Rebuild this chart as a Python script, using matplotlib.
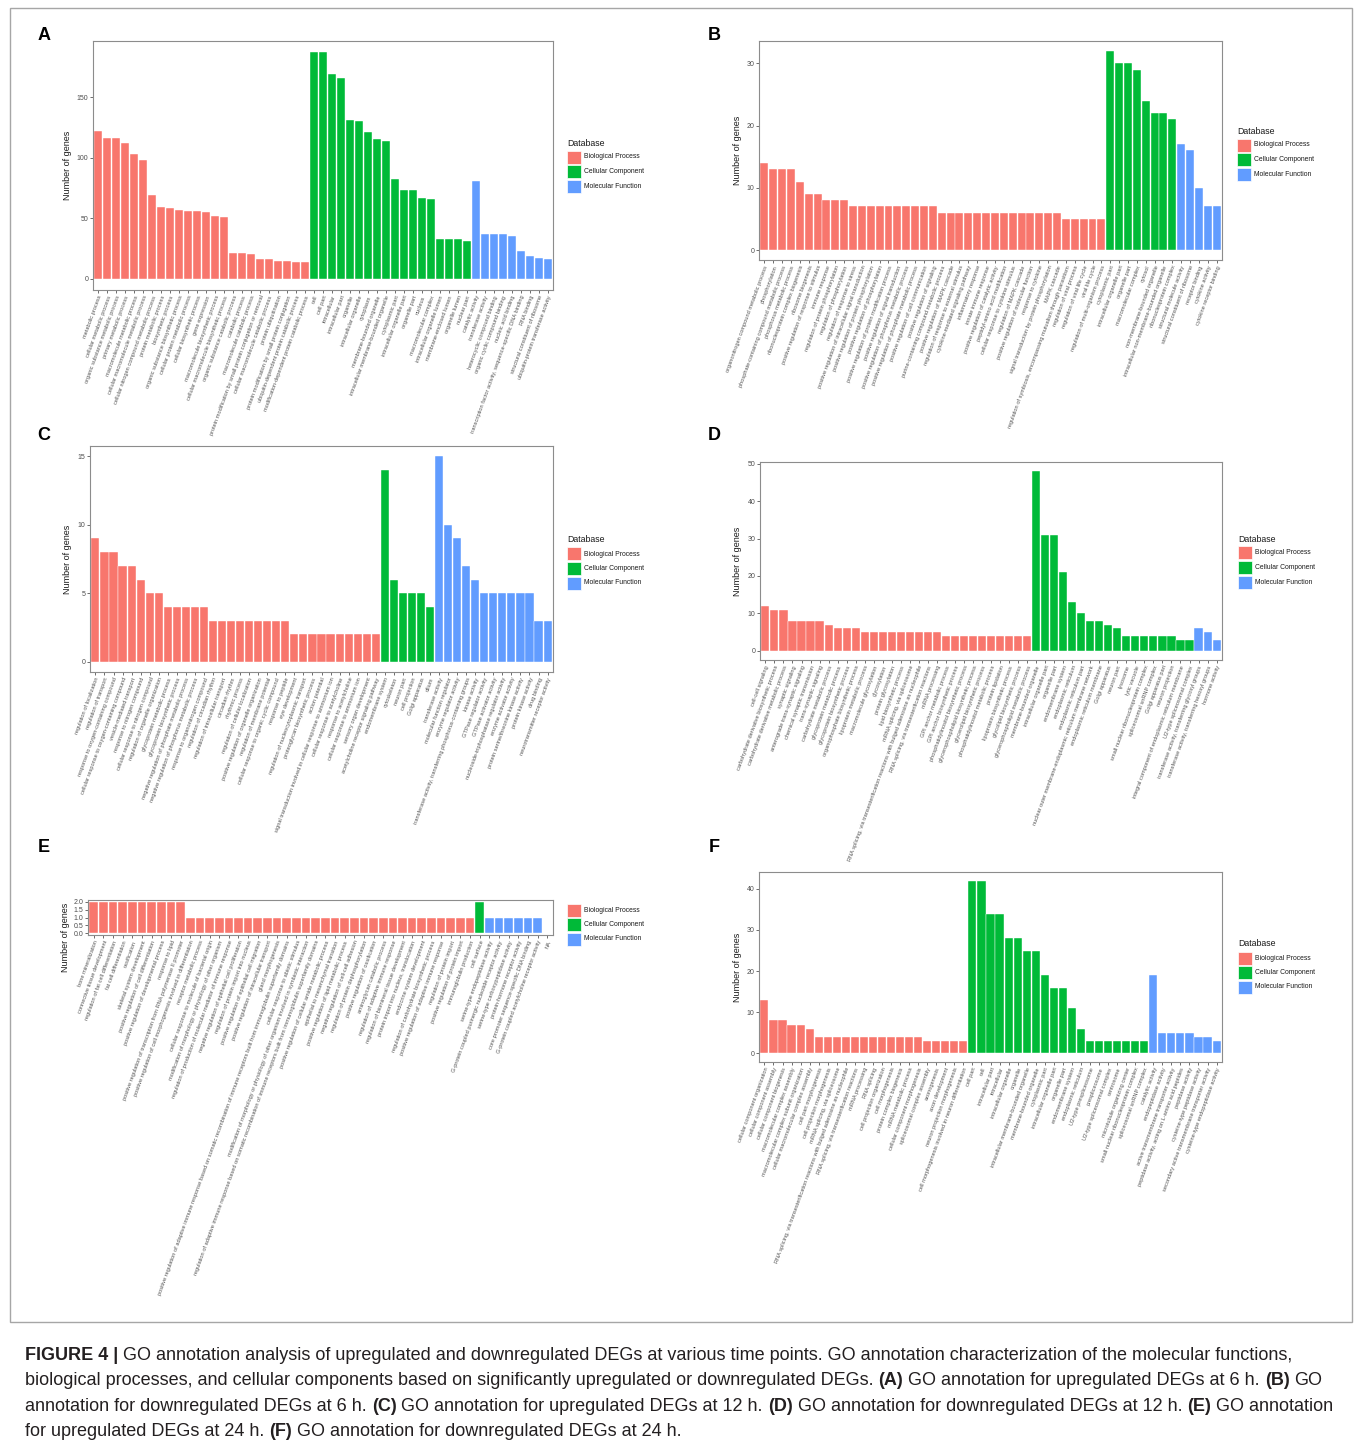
import matplotlib
matplotlib.use('Agg')
import matplotlib.pyplot as plt
from matplotlib.patches import Rectangle
from matplotlib.transforms import Bbox
import numpy as np

plt.rcParams['font.family'] = ['Liberation Sans', 'DejaVu Sans']

W, H = 1358, 1446

# colours used by ggplot for the three GO databases
BP_COLOR = '#F8766D'
CC_COLOR = '#00BA38'
MF_COLOR = '#619CFF'

# ---------------- panel A: upregulated 6 h ----------------
a_bp_terms = ['metabolic process', 'cellular metabolic process', 'organic substance metabolic process',
              'primary metabolic process', 'macromolecule metabolic process',
              'cellular macromolecule metabolic process', 'cellular nitrogen compound metabolic process',
              'protein metabolic process', 'biosynthetic process', 'organic substance biosynthetic process',
              'cellular protein metabolic process', 'cellular biosynthetic process', 'gene expression',
              'macromolecule biosynthetic process', 'cellular macromolecule biosynthetic process',
              'organic substance catabolic process', 'catabolic process', 'macromolecule catabolic process',
              'protein modification by small protein conjugation or removal',
              'cellular macromolecule catabolic process', 'protein ubiquitination',
              'protein modification by small protein conjugation', 'ubiquitin-dependent protein catabolic process',
              'modification-dependent protein catabolic process']
a_bp_counts = [122, 116, 116, 112, 103, 98, 69, 59, 58, 57, 56, 56, 55, 52, 51, 21, 21, 20, 16, 16, 15, 15, 14, 14]
a_cc_terms = ['cell', 'cell part', 'intracellular', 'intracellular part', 'organelle', 'intracellular organelle',
              'cytoplasm', 'membrane-bounded organelle', 'intracellular membrane-bounded organelle',
              'cytoplasmic part', 'intracellular organelle part', 'organelle part', 'nucleus',
              'macromolecular complex', 'intracellular organelle lumen', 'membrane-enclosed lumen',
              'organelle lumen', 'nuclear part']
a_cc_counts = [187, 187, 169, 166, 131, 130, 121, 115, 114, 82, 73, 73, 67, 66, 33, 33, 33, 31]
a_mf_terms = ['catalytic activity', 'transferase activity', 'heterocyclic compound binding',
              'organic cyclic compound binding', 'nucleic acid binding',
              'transcription factor activity, sequence-specific DNA binding', 'RNA binding',
              'structural constituent of ribosome', 'ubiquitin-protein transferase activity']
a_mf_counts = [81, 37, 37, 37, 35, 23, 19, 17, 16]

# ---------------- panel B: downregulated 6 h ----------------
b_bp_terms = ['organonitrogen compound metabolic process', 'phosphorylation',
              'phosphate-containing compound metabolic process', 'phosphorus metabolic process',
              'ribonucleoprotein complex biogenesis', 'ribosome biogenesis',
              'positive regulation of response to stimulus', 'immune response',
              'regulation of protein phosphorylation', 'regulation of phosphorylation',
              'regulation of response to stress', 'positive regulation of intracellular signal transduction',
              'positive regulation of protein phosphorylation', 'positive regulation of phosphorylation',
              'positive regulation of protein modification process', 'positive regulation of signal transduction',
              'positive regulation of phosphorus metabolic process',
              'positive regulation of phosphate metabolic process', 'positive regulation of cell communication',
              'positive regulation of signaling', 'purine-containing compound metabolic process',
              'positive regulation of MAPK cascade', 'regulation of response to external stimulus',
              'cytokine-mediated signaling pathway', 'inflammatory response', 'innate immune response',
              'positive regulation of catalytic activity', 'peptidyl-amino acid modification',
              'cellular response to cytokine stimulus', 'regulation of MAPK cascade',
              'positive regulation of molecular function', 'response to cytokine',
              'signal transduction by protein phosphorylation', 'MAPK cascade',
              'regulation of symbiosis, encompassing mutualism through parasitism',
              'regulation of viral process', 'regulation of viral life cycle', 'viral life cycle',
              'regulation of multi-organism process']
b_bp_counts = [14, 13, 13, 13, 11, 9, 9, 8, 8, 8, 7, 7, 7, 7, 7, 7, 7, 7, 7, 7,
               6, 6, 6, 6, 6, 6, 6, 6, 6, 6, 6, 6, 6, 6, 5, 5, 5, 5, 5]
b_cc_terms = ['cytoplasmic part', 'intracellular organelle part', 'organelle part', 'macromolecular complex',
              'cytosol', 'non-membrane-bounded organelle', 'intracellular non-membrane-bounded organelle',
              'ribonucleoprotein complex']
b_cc_counts = [32, 30, 30, 29, 24, 22, 22, 21]
b_mf_terms = ['structural molecule activity', 'structural constituent of ribosome', 'receptor binding',
              'cytokine activity', 'cytokine receptor binding']
b_mf_counts = [17, 16, 10, 7, 7]

# ---------------- panel C: upregulated 12 h ----------------
c_bp_terms = ['regulation of localization', 'regulation of transport', 'response to oxygen-containing compound',
              'cellular response to oxygen-containing compound', 'vesicle-mediated transport',
              'response to nitrogen compound', 'cellular response to nitrogen compound',
              'regulation of organelle organization', 'glycoprotein metabolic process',
              'glycoprotein biosynthetic process', 'negative regulation of phosphate metabolic process',
              'negative regulation of phosphorus metabolic process', 'response to organonitrogen compound',
              'regulation of circadian rhythm', 'regulation of intracellular transport', 'circadian rhythm',
              'rhythmic process', 'regulation of cellular localization',
              'positive regulation of organelle organization', 'regulation of membrane potential',
              'cellular response to organic cyclic compound', 'response to peptide', 'eye development',
              'regulation of nucleocytoplasmic transport', 'proteoglycan biosynthetic process',
              'action potential', 'signal transduction involved in cellular response to ammonium ion',
              'cellular response to acetylcholine', 'response to acetylcholine',
              'cellular response to ammonium ion', 'sensory organ development',
              'acetylcholine receptor signaling pathway']
c_bp_counts = [9, 8, 8, 7, 7, 6, 5, 5, 4, 4, 4, 4, 4, 3, 3, 3, 3, 3, 3, 3, 3, 3,
               2, 2, 2, 2, 2, 2, 2, 2, 2, 2]
c_cc_terms = ['endomembrane system', 'cytoskeleton', 'neuron part', 'cell projection', 'Golgi apparatus', 'cilium']
c_cc_counts = [14, 6, 5, 5, 5, 4]
c_mf_terms = ['transferase activity', 'molecular function regulator', 'enzyme regulator activity',
              'transferase activity, transferring phosphorus-containing groups', 'kinase activity',
              'GTPase regulator activity', 'GTPase activator activity',
              'nucleoside-triphosphatase regulator activity', 'enzyme activator activity',
              'protein serine/threonine kinase activity', 'protein kinase activity', 'drug binding',
              'neurotransmitter receptor activity']
c_mf_counts = [15, 10, 9, 7, 6, 5, 5, 5, 5, 5, 5, 3, 3]

# ---------------- panel D: downregulated 12 h ----------------
d_bp_terms = ['cell-cell signaling', 'carbohydrate derivative biosynthetic process',
              'carbohydrate derivative metabolic process', 'synaptic signaling',
              'anterograde trans-synaptic signaling', 'chemical synaptic transmission', 'trans-synaptic signaling',
              'carbohydrate metabolic process', 'glycoprotein metabolic process', 'glycoprotein biosynthetic process',
              'organophosphate biosynthetic process', 'lipoprotein metabolic process', 'macromolecule glycosylation',
              'glycosylation', 'protein glycosylation', 'lipid biosynthetic process', 'mRNA splicing, via spliceosome',
              'RNA splicing, via transesterification reactions with bulged adenosine as nucleophile',
              'RNA splicing, via transesterification reactions', 'mRNA processing', 'GPI anchor metabolic process',
              'GPI anchor biosynthetic process', 'phosphatidylinositol biosynthetic process',
              'glycerophospholipid biosynthetic process', 'glycerolipid biosynthetic process',
              'phosphatidylinositol metabolic process', 'protein lipidation', 'lipoprotein biosynthetic process',
              'glycolipid biosynthetic process', 'glycerophospholipid metabolic process']
d_bp_counts = [12, 11, 11, 8, 8, 8, 8, 7, 6, 6, 6, 5, 5, 5, 5, 5, 5, 5, 5, 5,
               4, 4, 4, 4, 4, 4, 4, 4, 4, 4]
d_cc_terms = ['membrane-bounded organelle', 'intracellular organelle part', 'organelle part', 'endomembrane system',
              'endoplasmic reticulum', 'endoplasmic reticulum part',
              'nuclear outer membrane-endoplasmic reticulum membrane network', 'endoplasmic reticulum membrane',
              'Golgi apparatus', 'neuron part', 'lysosome', 'lytic vacuole',
              'small nuclear ribonucleoprotein complex', 'spliceosomal snRNP complex', 'Golgi apparatus part',
              'neuron projection', 'integral component of endoplasmic reticulum membrane',
              'U2-type spliceosomal complex']
d_cc_counts = [48, 31, 31, 21, 13, 10, 8, 8, 7, 6, 4, 4, 4, 4, 4, 4, 3, 3]
d_mf_terms = ['transferase activity, transferring glycosyl groups',
              'transferase activity, transferring hexosyl groups', 'hormone activity']
d_mf_counts = [6, 5, 3]

# ---------------- panel E: upregulated 24 h ----------------
e_bp_terms = ['bone mineralization', 'connective tissue development', 'regulation of fat cell differentiation',
              'fat cell differentiation', 'ossification', 'skeletal system development',
              'positive regulation of cell differentiation', 'positive regulation of developmental process',
              'response to lipid', 'positive regulation of transcription from RNA polymerase II promoter',
              'positive regulation of cell morphogenesis involved in differentiation', 'receptor metabolic process',
              'cellular response to molecule of bacterial origin',
              'modification of morphology or physiology of other organism',
              'regulation of production of molecular mediator of immune response',
              'negative regulation of epithelial cell proliferation', 'regulation of protein import into nucleus',
              'positive regulation of epithelial cell migration', 'positive regulation of intracellular transport',
              'gland morphogenesis',
              'positive regulation of adaptive immune response based on somatic recombination of immune '
              'receptors built from immunoglobulin superfamily domains',
              'cellular response to abiotic stimulus',
              'modification of morphology or physiology of other organism involved in symbiotic interaction',
              'regulation of adaptive immune response based on somatic recombination of immune receptors '
              'built from immunoglobulin superfamily domains',
              'positive regulation of cellular amide metabolic process', 'epithelial to mesenchymal transition',
              'positive regulation of lipid metabolic process', 'negative regulation of cell-cell adhesion',
              'regulation of protein dephosphorylation', 'positive regulation of ossification',
              'aminoglycan catabolic process', 'regulation of adaptive immune response',
              'regulation of biomineral tissue development', 'protein import into nucleus, translocation',
              'endocrine system development', 'regulation of carbohydrate biosynthetic process',
              'positive regulation of adaptive immune response', 'regulation of protein import',
              'positive regulation of protein import', 'immunoglobulin production']
e_bp_counts = [2, 2, 2, 2, 2, 2, 2, 2, 2, 2,
               1, 1, 1, 1, 1, 1, 1, 1, 1, 1, 1, 1, 1, 1, 1, 1, 1, 1, 1, 1,
               1, 1, 1, 1, 1, 1, 1, 1, 1, 1]
e_cc_terms = ['cell surface']
e_cc_counts = [2]
e_mf_terms = ['serine-type endopeptidase activity', 'G-protein coupled purinergic nucleotide receptor activity',
              'serine-type carboxypeptidase activity', 'protein-hormone receptor activity',
              'core promoter sequence-specific DNA binding', 'G-protein coupled acetylcholine receptor activity']
e_mf_counts = [1, 1, 1, 1, 1, 1]
e_na_terms = ['NA']

# ---------------- panel F: downregulated 24 h ----------------
f_bp_terms = ['cellular component organization', 'cellular component assembly', 'cellular component biogenesis',
              'macromolecular complex assembly', 'macromolecular complex subunit organization',
              'cellular macromolecular complex assembly', 'cell part morphogenesis', 'cell projection morphogenesis',
              'mRNA splicing, via spliceosome',
              'RNA splicing, via transesterification reactions with bulged adenosine as nucleophile',
              'RNA splicing, via transesterification reactions', 'mRNA processing', 'RNA splicing',
              'cell projection organization', 'cell morphogenesis', 'protein complex biogenesis',
              'mRNA metabolic process', 'cellular component morphogenesis', 'spliceosomal complex assembly',
              'axonogenesis', 'axon development', 'neuron projection morphogenesis',
              'cell morphogenesis involved in neuron differentiation']
f_bp_counts = [13, 8, 8, 7, 7, 6, 4, 4, 4, 4, 4, 4, 4, 4, 4, 4, 4, 4, 3, 3, 3, 3, 3]
f_cc_terms = ['cell part', 'cell', 'intracellular part', 'intracellular', 'intracellular organelle', 'organelle',
              'intracellular membrane-bounded organelle', 'membrane-bounded organelle', 'cytoplasmic part',
              'intracellular organelle part', 'organelle part', 'endomembrane system', 'endoplasmic reticulum',
              'U2-type prespliceosome', 'prespliceosome', 'U2-type spliceosomal complex', 'centrosome',
              'microtubule organizing center', 'small nuclear ribonucleoprotein complex',
              'spliceosomal snRNP complex']
f_cc_counts = [42, 42, 34, 34, 28, 28, 25, 25, 19, 16, 16, 11, 6, 3, 3, 3, 3, 3, 3, 3]
f_mf_terms = ['catalytic activity', 'endopeptidase activity', 'active transmembrane transporter activity',
              'peptidase activity, acting on L-amino acid peptides', 'peptidase activity',
              'cysteine-type peptidase activity', 'secondary active transmembrane transporter activity',
              'cysteine-type endopeptidase activity']
f_mf_counts = [19, 5, 5, 5, 5, 4, 4, 3]

legend_names = ['Biological Process', 'Cellular Component', 'Molecular Function']

caption_lines = [
    [('FIGURE 4 |', True), ('GO annotation analysis of upregulated and downregulated DEGs at various time points. '
                            'GO annotation characterization of the molecular functions,', False)],
    [('biological processes, and cellular components based on significantly upregulated or downregulated DEGs.',
      False), ('(A)', True), ('GO annotation for upregulated DEGs at 6 h.', False), ('(B)', True), ('GO', False)],
    [('annotation for downregulated DEGs at 6 h.', False), ('(C)', True),
     ('GO annotation for upregulated DEGs at 12 h.', False), ('(D)', True),
     ('GO annotation for downregulated DEGs at 12 h.', False), ('(E)', True), ('GO annotation', False)],
    [('for upregulated DEGs at 24 h.', False), ('(F)', True), ('GO annotation for downregulated DEGs at 24 h.', False)],
]

fig = plt.figure(figsize=(W / 100, H / 100), dpi=100)
fig.patch.set_facecolor('white')


def fx(x):
    return x / W


def fy(y):
    return 1 - y / H


def px_axes(x0, y0, x1, y1):
    return fig.add_axes([fx(x0), fy(y1), (x1 - x0) / W, (y1 - y0) / H])


def draw_panel(box, groups, yticks, ytick_fmt='{:g}', extra_terms=()):
    ax = px_axes(*box)
    terms, counts, colors = [], [], []
    for t, c, col in groups:
        terms += t
        counts += c
        colors += [col] * len(c)
    x = np.arange(len(counts))
    ax.bar(x, counts, width=0.9, color=colors, edgecolor='white', linewidth=0.3)
    all_terms = terms + list(extra_terms)
    n = len(all_terms)
    ax.set_xlim(-0.6, n - 1 + 0.6)
    top = max(counts)
    ax.set_ylim(-0.05 * top, 1.05 * top)
    ax.set_xticks(np.arange(n))
    ax.set_xticklabels(all_terms, rotation=70, ha='right', va='top', rotation_mode='anchor',
                       fontsize=4.1, color='#555555')
    ax.set_yticks(yticks)
    ax.set_yticklabels([ytick_fmt.format(v) for v in yticks], fontsize=5, color='#4D4D4D')
    ax.tick_params(length=2, width=0.5, color='#333333', pad=1.5)
    for s in ax.spines.values():
        s.set_color('#8C8C8C')
        s.set_linewidth(0.8)
    return ax


def draw_legend(x, y, title=True):
    # manual ggplot-like legend, y is the title centre in pixels
    if title:
        fig.text(fx(x), fy(y), 'Database', fontsize=6.3, va='center', ha='left', color='#1A1A1A')
    for i, (name, col) in enumerate(zip(legend_names, [BP_COLOR, CC_COLOR, MF_COLOR])):
        cy = y + 14 + i * 14.5
        fig.add_artist(Rectangle((fx(x), fy(cy + 6.5)), 13.5 / W, 13 / H, transform=fig.transFigure,
                                 facecolor=col, edgecolor='white', linewidth=0.5))
        fig.text(fx(x + 17), fy(cy), name, fontsize=4.9, va='center', ha='left', color='#1A1A1A')


def ylabel(x, y, clip_top=None):
    t = fig.text(fx(x), fy(y), 'Number of genes', rotation=90, fontsize=6.5, va='center', ha='center',
                 color='#1A1A1A')
    if clip_top is not None:
        t.set_clip_box(Bbox([[0, 0], [W, H - clip_top]]))
        t.set_clip_on(True)


panels = [
    ('A', (44, 35), (93, 41, 553, 290), [(a_bp_terms, a_bp_counts, BP_COLOR), (a_cc_terms, a_cc_counts, CC_COLOR),
                                         (a_mf_terms, a_mf_counts, MF_COLOR)], [0, 50, 100, 150], (567, 143), 67),
    ('B', (714, 35), (759, 41, 1222, 260), [(b_bp_terms, b_bp_counts, BP_COLOR), (b_cc_terms, b_cc_counts, CC_COLOR),
                                            (b_mf_terms, b_mf_counts, MF_COLOR)], [0, 10, 20, 30], (1237, 131), 737),
    ('C', (44, 436), (90, 446, 553, 672), [(c_bp_terms, c_bp_counts, BP_COLOR), (c_cc_terms, c_cc_counts, CC_COLOR),
                                           (c_mf_terms, c_mf_counts, MF_COLOR)], [0, 5, 10, 15], (567, 540), 67),
    ('D', (714, 435), (760, 462, 1222, 660), [(d_bp_terms, d_bp_counts, BP_COLOR), (d_cc_terms, d_cc_counts, CC_COLOR),
                                              (d_mf_terms, d_mf_counts, MF_COLOR)], [0, 10, 20, 30, 40, 50],
     (1238, 539), 737),
    ('F', (714, 848), (759, 872, 1222, 1062), [(f_bp_terms, f_bp_counts, BP_COLOR), (f_cc_terms, f_cc_counts, CC_COLOR),
                                               (f_mf_terms, f_mf_counts, MF_COLOR)], [0, 10, 20, 30, 40],
     (1238, 944), 737),
]

for letter, lpos, box, groups, yt, legpos, ylx in panels:
    draw_panel(box, groups, yt)
    fig.text(fx(lpos[0]), fy(lpos[1]), letter, fontsize=13, fontweight='bold', ha='center', va='center')
    draw_legend(*legpos)
    ylabel(ylx, (box[1] + box[3]) / 2)

# panel E is squeezed by its long labels, and has an empty NA slot
e_box = (88, 900, 553, 935)
draw_panel(e_box, [(e_bp_terms, e_bp_counts, BP_COLOR), (e_cc_terms, e_cc_counts, CC_COLOR),
                   (e_mf_terms, e_mf_counts, MF_COLOR)], [0, 0.5, 1.0, 1.5, 2.0], '{:.1f}', e_na_terms)
fig.text(fx(44), fy(848), 'E', fontsize=13, fontweight='bold', ha='center', va='center')
draw_legend(567, 896, title=False)
ylabel(66, 937, clip_top=897)

# frame around the figure image
fig.add_artist(Rectangle((fx(10), fy(1322)), 1342 / W, 1314 / H, transform=fig.transFigure,
                         facecolor='none', edgecolor='#A6A6A6', linewidth=1.0))

# caption with bold fragments
cap_size = 12.95
renderer = fig.canvas.get_renderer()
probe1 = fig.text(0, 0, 'x x', fontsize=cap_size)
probe2 = fig.text(0, 0, 'xx', fontsize=cap_size)
space_w = probe1.get_window_extent(renderer).width - probe2.get_window_extent(renderer).width
probe1.remove()
probe2.remove()

for i, line in enumerate(caption_lines):
    xpos = 25
    ypos = 1360 + i * 25.3
    for txt, bold in line:
        t = fig.text(fx(xpos), fy(ypos), txt, fontsize=cap_size, fontweight='bold' if bold else 'normal',
                     ha='left', va='baseline', color='#231F20')
        xpos += t.get_window_extent(renderer).width + space_w

fig.savefig('out.png', dpi=100, facecolor='white')
plt.close(fig)
